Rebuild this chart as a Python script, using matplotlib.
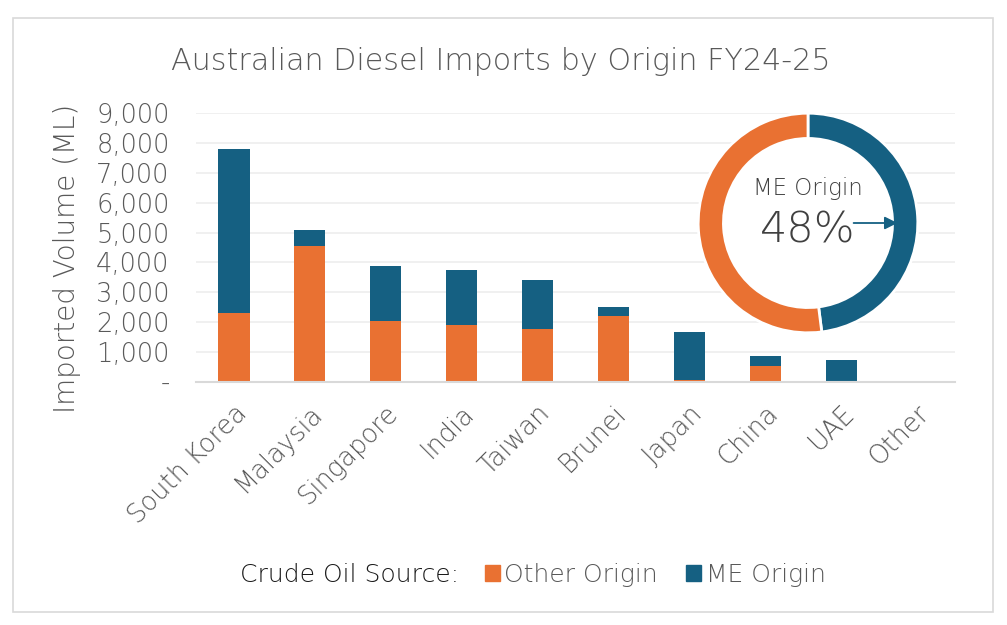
import matplotlib.pyplot as plt
from matplotlib.patches import Rectangle, Patch, Circle
from matplotlib.ticker import FuncFormatter

# DejaVu ExtraLight is the closest installed match to the thin wide face
plt.rcParams['font.family'] = ['DejaVu Sans']
plt.rcParams['font.weight'] = 200
plt.rcParams['axes.labelweight'] = 200

#%% Data (ML)
countries = ["South Korea", "Malaysia", "Singapore", "India", "Taiwan",
             "Brunei", "Japan", "China", "UAE", "Other"]
other_origin = [2310, 4560, 2050, 1910, 1780, 2210, 80, 545, 0, 0]
me_origin = [5480, 530, 1830, 1840, 1640, 300, 1600, 335, 745, 0]
me_share = 48

ORANGE = "#E97132"
BLUE = "#156082"
GREY = "#595959"

#%% Figure and bar axes
fig = plt.figure(figsize=(10.07, 6.25), dpi=100)
fig.patches.append(Rectangle((13/1007, 13/625), 980/1007, 594/625,
                             transform=fig.transFigure, fill=False,
                             edgecolor="#D9D9D9", lw=1.2))

ax = fig.add_axes([196/1007, (625-382.3)/625, 759/1007, 269.6/625])
x = range(len(countries))
ax.bar(x, other_origin, width=0.41, color=ORANGE, zorder=2)
ax.bar(x, me_origin, width=0.41, bottom=other_origin, color=BLUE, zorder=2)

ax.set_xlim(-0.5, len(countries) - 0.5)
ax.set_ylim(0, 9000)
ax.set_yticks(range(0, 9001, 1000))
ax.yaxis.set_major_formatter(FuncFormatter(
    lambda v, p: "-" if v == 0 else f"{int(v):,}"))
ax.grid(axis="y", color="#EEEEEE", lw=1.2, zorder=0)
for s in ["top", "right", "left"]:
    ax.spines[s].set_visible(False)
ax.spines["bottom"].set_color("#D9D9D9")
ax.spines["bottom"].set_linewidth(1.5)
ax.tick_params(length=0, labelsize=18.5, labelcolor=GREY)
ax.tick_params(axis="y", pad=19)
ax.set_xticks(list(x))
ax.set_xticklabels(countries, rotation=45, ha="right", rotation_mode="anchor")
ax.tick_params(axis="x", pad=13)
ax.set_ylabel("Imported Volume (ML)", fontsize=20, color=GREY)
ax.yaxis.set_label_coords(-0.152, 0.46)

fig.text(0.497, 0.902, "Australian Diesel Imports by Origin FY24-25",
         ha="center", va="center", fontsize=21.7, color=GREY)

#%% Donut with ME share
dax = fig.add_axes([(808-112)/1007, (625-223-112)/625, 224/1007, 224/625])
dax.add_patch(Circle((0, 0), 1.0, color="white", zorder=0))
dax.pie([me_share, 100 - me_share], colors=[BLUE, ORANGE], startangle=90,
        counterclock=False, radius=1.0,
        wedgeprops=dict(width=0.23, edgecolor="white", linewidth=2))
dax.set_aspect("equal")
dax.set_xlim(-1.02, 1.02)
dax.set_ylim(-1.02, 1.02)
dax.text(0, 0.31, "ME Origin", ha="center", va="center", fontsize=16.5,
         color="#404040")
dax.text(0, -0.06, f"{me_share}%", ha="center", va="center", fontsize=31,
         color="#404040")
dax.annotate("", xy=(0.84, 0.0), xytext=(0.39, 0.0),
             arrowprops=dict(arrowstyle="-|>", color=BLUE, lw=1.3,
                             mutation_scale=19))

#%% Legend
fig.text(240/1007, 1 - 575/625, "Crude Oil Source:", ha="left", va="center",
         fontsize=18, color="#1A1A1A")
handles = [Patch(color=ORANGE, label="Other Origin"),
           Patch(color=BLUE, label="ME Origin")]
leg = fig.legend(handles=handles, loc="center", ncol=2,
                 bbox_to_anchor=(655/1007, 1 - 575/625), frameon=False,
                 fontsize=18, handlelength=0.6, handleheight=0.6,
                 handletextpad=0.2, columnspacing=1.1)
for t in leg.get_texts():
    t.set_color(GREY)

fig.savefig("out.png", dpi=100)
